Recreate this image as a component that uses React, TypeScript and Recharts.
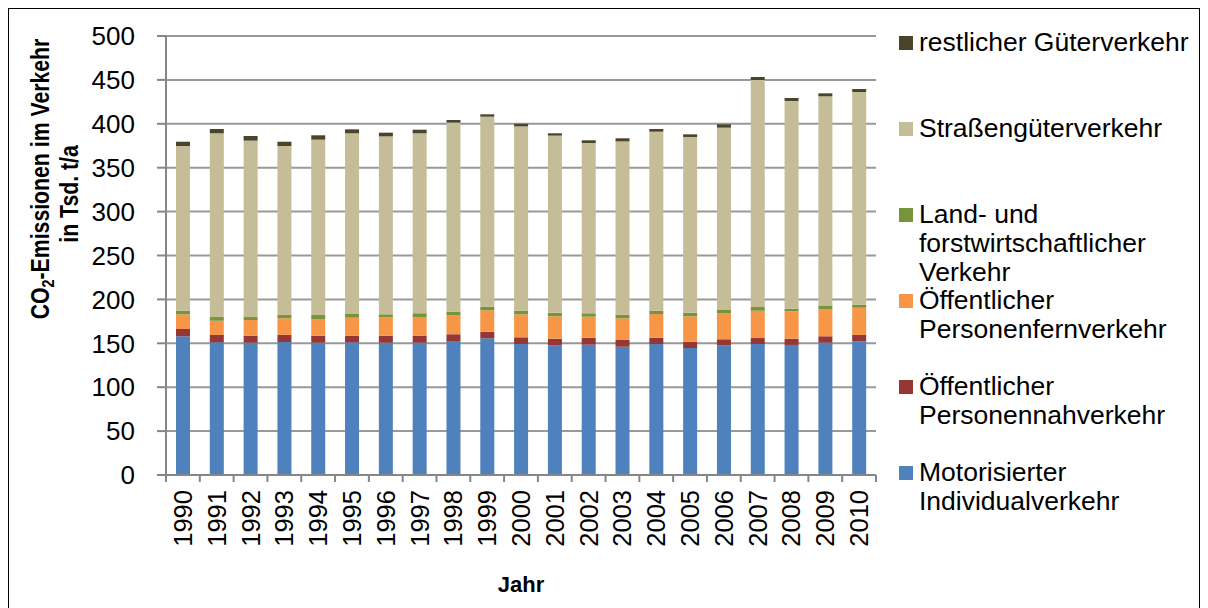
import React from 'react';
import { BarChart, Bar, XAxis, YAxis, CartesianGrid, Legend } from 'recharts';

const years = ['1990', '1991', '1992', '1993', '1994', '1995', '1996', '1997', '1998', '1999', '2000', '2001', '2002', '2003', '2004', '2005', '2006', '2007', '2008', '2009', '2010'];
const motorisiert = [158, 151.1, 150.7, 151.5, 150.7, 151.1, 150.7, 150.7, 152.6, 155.7, 149.2, 147.7, 148.4, 146.1, 149.2, 144.6, 147.7, 149.2, 148.1, 150.7, 152.3];
const nahverkehr = [8.3, 8.4, 8.0, 8.3, 8.0, 7.6, 8.0, 8.0, 7.7, 7.5, 7.6, 7.5, 8.0, 7.7, 7.2, 7.2, 6.9, 6.8, 7.1, 7.3, 7.2];
const fernverkehr = [16.7, 16.2, 17.8, 18.7, 19.0, 20.5, 20.9, 21.3, 21.9, 24.4, 26.2, 25.5, 23.9, 24.7, 27.0, 28.9, 29.9, 31.1, 31.2, 31.1, 31.0];
const landForst = [4.1, 4.2, 3.4, 3.7, 4.5, 4.2, 3.4, 4.2, 3.8, 4.1, 4.1, 4.1, 3.9, 4.1, 3.7, 4.1, 3.4, 4.2, 3.0, 3.4, 3.5];
const strasse = [187.6, 209.3, 200.9, 192.5, 199.7, 205.8, 202.7, 205.0, 215.3, 216.4, 210.0, 201.7, 193.9, 197.4, 203.9, 200.2, 207.7, 258.6, 236.6, 238.8, 242.2];
const restlich = [4.9, 4.9, 5.3, 4.9, 5.0, 4.5, 4.2, 4.1, 3.0, 2.7, 2.9, 2.7, 3.1, 3.5, 3.1, 3.0, 3.8, 3.4, 3.4, 3.4, 3.4];
const yTicks = [0, 50, 100, 150, 200, 250, 300, 350, 400, 450, 500];

const series = [
  { key: 'motorisiert', name: 'Motorisierter Individualverkehr', color: '#4F81BD', values: motorisiert },
  { key: 'nah', name: 'Öffentlicher Personennahverkehr', color: '#953735', values: nahverkehr },
  { key: 'fern', name: 'Öffentlicher Personenfernverkehr', color: '#F79646', values: fernverkehr },
  { key: 'land', name: 'Land- und forstwirtschaftlicher Verkehr', color: '#77933C', values: landForst },
  { key: 'strasse', name: 'Straßengüterverkehr', color: '#C4BD97', values: strasse },
  { key: 'rest', name: 'restlicher Güterverkehr', color: '#4A452A', values: restlich },
];

const data = years.map((year, i) => {
  const row: Record<string, string | number> = { year };
  series.forEach((s) => { row[s.key] = s.values[i]; });
  return row;
});

const CHART_W = 1190;
const CHART_H = 610;
const MARGIN = { top: 27, right: 323, bottom: 24, left: 0 };
const Y_AXIS_W = 157;
const X_AXIS_H = 120;
const PLOT_W = CHART_W - MARGIN.left - MARGIN.right - Y_AXIS_W;
const HALF_BAND = PLOT_W / years.length / 2;
const FONT = 'Liberation Sans, Arial, sans-serif';
const AXIS_COLOR = '#868686';

const XTick = (props: any) => {
  const { x, y, payload, index } = props;
  const isLast = index === years.length - 1;
  return (
    <g>
      <line x1={x - HALF_BAND} x2={x - HALF_BAND} y1={y} y2={y + 7} stroke={AXIS_COLOR} strokeWidth={2} />
      {isLast && (
        <line x1={x + HALF_BAND} x2={x + HALF_BAND} y1={y} y2={y + 7} stroke={AXIS_COLOR} strokeWidth={2} />
      )}
      <text
        x={x + 9}
        y={y + 15}
        transform={`rotate(-90, ${x + 9}, ${y + 15})`}
        textAnchor="end"
        fontSize={25.5}
        fontFamily={FONT}
        fill="#000"
      >
        {payload.value}
      </text>
    </g>
  );
};

const YTitle = (props: any) => {
  const vb = props.viewBox || { x: 0, y: 27, width: 157, height: 439 };
  const x1 = vb.x + 40;
  const y1 = vb.y + 143;
  const x2 = vb.x + 69;
  const y2 = vb.y + 158;
  return (
    <g fontFamily={FONT} fontWeight="bold" fontSize={25} fill="#000">
      <g transform={`translate(${x1}, ${y1}) rotate(-90) scale(0.85, 1)`}>
        <text x={0} y={0} textAnchor="middle">
          CO<tspan fontSize={17} dy={5}>2</tspan><tspan dy={-5}>-Emissionen im Verkehr</tspan>
        </text>
      </g>
      <g transform={`translate(${x2}, ${y2}) rotate(-90) scale(0.85, 1)`}>
        <text x={0} y={0} textAnchor="middle">
          in Tsd. t/a
        </text>
      </g>
    </g>
  );
};

const XTitle = (props: any) => {
  const vb = props.viewBox || { x: 157, y: 466, width: 710, height: 120 };
  return (
    <text
      x={vb.x + vb.width / 2}
      y={vb.y + 117}
      textAnchor="middle"
      fontFamily={FONT}
      fontWeight="bold"
      fontSize={22}
      fill="#000"
    >
      Jahr
    </text>
  );
};

const LegendBox = () => {
  const items = [...series].reverse();
  return (
    <div style={{ position: 'relative', width: 310, fontFamily: FONT, fontSize: 26.5, color: '#000' }}>
      {items.map((s, i) => (
        <div
          key={s.key}
          style={{ position: 'absolute', left: 0, top: i * 86, display: 'flex', alignItems: 'flex-start', textAlign: 'left' }}
        >
          <div style={{ width: 14, height: 14, background: s.color, marginTop: 7.5, marginRight: 6, flex: 'none' }} />
          <div style={{ width: 285, lineHeight: '29px' }}>{s.name}</div>
        </div>
      ))}
    </div>
  );
};

export default function App() {
  return (
    <div
      style={{
        position: 'relative',
        width: 1192,
        height: 620,
        border: '1px solid #000',
        boxSizing: 'border-box',
        background: '#fff',
      }}
    >
      <div style={{ position: 'absolute', left: 0, top: 0 }}>
        <BarChart width={CHART_W} height={CHART_H} data={data} margin={MARGIN} barSize={14}>
          <CartesianGrid vertical={false} stroke="#999999" strokeWidth={2} yAxisId="l" />
          <XAxis
            dataKey="year"
            height={X_AXIS_H}
            interval={0}
            axisLine={{ stroke: AXIS_COLOR, strokeWidth: 2 }}
            tickLine={false}
            tickSize={0}
            tickMargin={0}
            tick={<XTick />}
            label={<XTitle />}
          />
          <YAxis
            yAxisId="l"
            width={Y_AXIS_W}
            domain={[0, 500]}
            ticks={yTicks}
            interval={0}
            axisLine={{ stroke: AXIS_COLOR, strokeWidth: 2 }}
            tickLine={{ stroke: AXIS_COLOR, strokeWidth: 2 }}
            tickSize={9}
            tickMargin={22}
            tick={{ fontSize: 26, fontFamily: FONT, fill: '#000' }}
            label={<YTitle />}
          />
          <YAxis
            yAxisId="r"
            orientation="right"
            width={0}
            domain={[0, 500]}
            ticks={yTicks}
            tick={false}
            tickLine={false}
            axisLine={{ stroke: AXIS_COLOR, strokeWidth: 2 }}
          />
          {series.map((s) => (
            <Bar
              key={s.key}
              yAxisId="l"
              dataKey={s.key}
              name={s.name}
              stackId="a"
              fill={s.color}
              isAnimationActive={false}
            />
          ))}
          <Legend
            layout="horizontal"
            verticalAlign="middle"
            align="center"
            content={() => <LegendBox />}
            wrapperStyle={{ position: 'absolute', left: 890, top: 19, width: 300, height: 520, margin: 0 }}
          />
        </BarChart>
      </div>
    </div>
  );
}
